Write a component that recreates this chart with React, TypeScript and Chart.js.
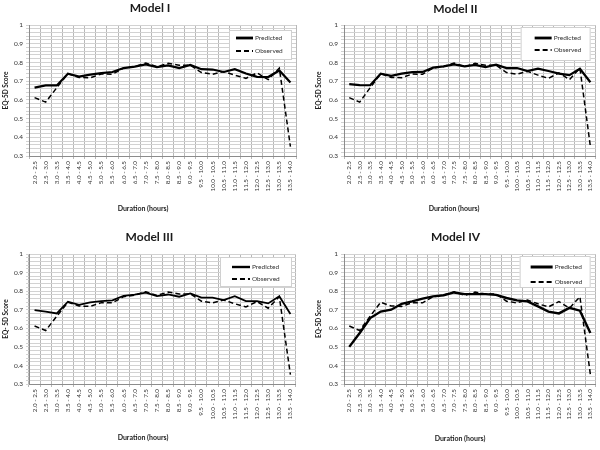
import React, { useEffect, useRef } from "react";
import { Chart, registerables } from "chart.js";

Chart.register(...registerables);

const categories = [
  "2.0 - 2.5", "2.5 - 3.0", "3.0 - 3.5", "3.5 - 4.0", "4.0 - 4.5", "4.5 - 5.0",
  "5.0 - 5.5", "5.5 - 6.0", "6.0 - 6.5", "6.5 - 7.0", "7.0 - 7.5", "7.5 - 8.0",
  "8.0 - 8.5", "8.5 - 9.0", "9.0 - 9.5", "9.5 - 10.0", "10.0 - 10.5", "10.5 - 11.0",
  "11.0 - 11.5", "11.5 - 12.0", "12.0 - 12.5", "12.5 - 13.0", "13.0 - 13.5", "13.5 - 14.0",
];

const observed = [
  0.612, 0.588, 0.665, 0.74, 0.72, 0.718, 0.738, 0.737, 0.77, 0.778, 0.797, 0.777,
  0.795, 0.785, 0.785, 0.746, 0.737, 0.752, 0.732, 0.715, 0.744, 0.708, 0.77, 0.35,
];

const predictedModelI = [
  0.665, 0.677, 0.677, 0.74, 0.724, 0.735, 0.743, 0.749, 0.77, 0.778, 0.789, 0.775,
  0.784, 0.77, 0.787, 0.764, 0.762, 0.749, 0.764, 0.741, 0.723, 0.722, 0.757, 0.693,
];

const predictedModelII = [
  0.684, 0.679, 0.678, 0.74, 0.728, 0.74, 0.748, 0.749, 0.772, 0.779, 0.789, 0.779,
  0.787, 0.775, 0.788, 0.77, 0.77, 0.754, 0.767, 0.754, 0.74, 0.732, 0.766, 0.694,
];

const predictedModelIII = [
  0.698, 0.69, 0.68, 0.743, 0.726, 0.739, 0.746, 0.75, 0.775, 0.781, 0.792, 0.773,
  0.782, 0.77, 0.788, 0.765, 0.765, 0.752, 0.773, 0.746, 0.746, 0.734, 0.773, 0.677,
];

const predictedModelIV = [
  0.5, 0.575, 0.655, 0.69, 0.7, 0.732, 0.745, 0.76, 0.772, 0.778, 0.793, 0.784,
  0.784, 0.784, 0.78, 0.763, 0.75, 0.745, 0.718, 0.69, 0.68, 0.71, 0.695, 0.575,
];

const yMin = 0.3;
const yMax = 1;
const yMinorStep = 0.02;

const FONT = "Lato";

const insideLegend = {
  id: "insideLegend",
  afterDatasetsDraw(chart: any, _args: any, opts: any) {
    const { ctx, chartArea } = chart;
    const x = chartArea.right - opts.rightInset - opts.width;
    const y = chartArea.top + opts.topInset;
    ctx.save();
    ctx.fillStyle = "#ffffff";
    ctx.strokeStyle = "#d0d0d0";
    ctx.lineWidth = 1;
    ctx.fillRect(x, y, opts.width, opts.height);
    ctx.strokeRect(x + 0.5, y + 0.5, opts.width - 1, opts.height - 1);
    chart.data.datasets.forEach((ds: any, i: number) => {
      const ry = y + opts.firstRow + i * opts.rowGap;
      ctx.beginPath();
      ctx.strokeStyle = ds.borderColor;
      ctx.lineWidth = ds.borderWidth + 0.6;
      ctx.setLineDash(ds.borderDash || []);
      ctx.moveTo(x + opts.lineStart, ry);
      ctx.lineTo(x + opts.lineStart + opts.lineLength, ry);
      ctx.stroke();
      ctx.setLineDash([]);
      ctx.fillStyle = "#333";
      ctx.font = `6.5px ${FONT}`;
      ctx.textBaseline = "middle";
      ctx.textAlign = "left";
      ctx.fillText(ds.label, x + opts.lineStart + opts.lineLength + 2, ry);
    });
    ctx.restore();
  },
};

const xCaption = {
  id: "xCaption",
  afterDraw(chart: any, _args: any, opts: any) {
    const { ctx } = chart;
    ctx.save();
    ctx.fillStyle = "#222";
    ctx.font = `bold 7px ${FONT}`;
    ctx.textAlign = "center";
    ctx.textBaseline = "middle";
    ctx.fillText(opts.text, opts.x, opts.y);
    ctx.restore();
  },
};

type PanelCfg = {
  title: string;
  yTitle: string;
  predicted: number[];
  left: number;
  top: number;
  padLeft: number;
  padRight: number;
  titlePadTop: number;
  titlePadBottom: number;
  yWidth: number;
  xHeight: number;
  predWidth: number;
  captionX: number;
  captionY: number;
  legend: any;
};

const panels: PanelCfg[] = [
  {
    title: "Model I", yTitle: "EQ-5D Score", predicted: predictedModelI,
    left: 0, top: 0, padLeft: 0, padRight: 0, titlePadTop: 1.3, titlePadBottom: 9.3,
    yWidth: 29, xHeight: 69, predWidth: 2.2, captionX: 143, captionY: 209,
    legend: { width: 63, height: 30, rightInset: 4, topInset: 5, firstRow: 8, rowGap: 13, lineStart: 7, lineLength: 17 },
  },
  {
    title: "Model II", yTitle: "EQ-5D Score", predicted: predictedModelII,
    left: 300, top: 0, padLeft: 13, padRight: 2, titlePadTop: 1.8, titlePadBottom: 8.8,
    yWidth: 31, xHeight: 69, predWidth: 2.2, captionX: 154, captionY: 209,
    legend: { width: 70, height: 34, rightInset: 5, topInset: 2, firstRow: 11, rowGap: 12, lineStart: 14, lineLength: 17 },
  },
  {
    title: "Model III", yTitle: "EQ- 5D Score", predicted: predictedModelIII,
    left: 0, top: 225, padLeft: 0, padRight: 1, titlePadTop: 5.3, titlePadBottom: 9.3,
    yWidth: 29, xHeight: 66, predWidth: 1.8, captionX: 143, captionY: 213,
    legend: { width: 72, height: 30, rightInset: 4, topInset: 3, firstRow: 10, rowGap: 12, lineStart: 12, lineLength: 18 },
  },
  {
    title: "Model IV", yTitle: "EQ-5D Score", predicted: predictedModelIV,
    left: 300, top: 225, padLeft: 13, padRight: 2, titlePadTop: 5.3, titlePadBottom: 9.3,
    yWidth: 31, xHeight: 66, predWidth: 2.4, captionX: 160, captionY: 214,
    legend: { width: 71, height: 32, rightInset: 5, topInset: 2, firstRow: 11, rowGap: 15, lineStart: 11, lineLength: 22 },
  },
];

function Panel({ cfg }: { cfg: PanelCfg }) {
  const ref = useRef<HTMLCanvasElement>(null);
  useEffect(() => {
    const chart = new Chart(ref.current as HTMLCanvasElement, {
      type: "line",
      data: {
        labels: categories,
        datasets: [
          {
            label: "Predicted",
            data: cfg.predicted,
            borderColor: "#000000",
            borderWidth: cfg.predWidth,
            pointRadius: 0,
            tension: 0,
            fill: false,
          },
          {
            label: "Observed",
            data: observed,
            borderColor: "#000000",
            borderWidth: 1.5,
            borderDash: [5, 3],
            pointRadius: 0,
            tension: 0,
            fill: false,
          },
        ],
      },
      options: {
        animation: false,
        responsive: false,
        devicePixelRatio: 1,
        layout: { padding: { left: cfg.padLeft, right: cfg.padRight, top: 0, bottom: 0 } },
        plugins: {
          legend: { display: false },
          tooltip: { enabled: false },
          title: {
            display: true,
            text: cfg.title,
            color: "#1a1a1a",
            font: { family: FONT, size: 12, weight: "bold" },
            padding: { top: cfg.titlePadTop, bottom: cfg.titlePadBottom },
          },
          insideLegend: cfg.legend,
          xCaption: { text: "Duration (hours)", x: cfg.captionX, y: cfg.captionY },
        } as any,
        scales: {
          x: {
            type: "category",
            offset: true,
            grid: {
              offset: true,
              color: "#b8b8b8",
              lineWidth: 1,
              tickLength: 3,
            },
            border: { color: "#8c8c8c" },
            ticks: {
              autoSkip: false,
              maxRotation: 90,
              minRotation: 90,
              padding: 2,
              color: "#333",
              font: { family: FONT, size: 6.3 },
            },
            afterFit: (scale: any) => {
              scale.height = cfg.xHeight;
            },
          },
          y: {
            type: "linear",
            min: yMin,
            max: yMax,
            grid: {
              color: "#d2d2d2",
              lineWidth: 1,
              tickLength: 3,
            },
            border: { color: "#8c8c8c" },
            ticks: {
              stepSize: yMinorStep,
              maxTicksLimit: 100,
              autoSkip: false,
              padding: 3,
              color: "#333",
              font: { family: FONT, size: 6.5 },
              callback: (value: any) => {
                const v = Math.round(Number(value) * 100);
                return v % 10 === 0 ? String(v / 100) : "";
              },
            },
            title: {
              display: true,
              text: cfg.yTitle,
              color: "#222",
              font: { family: FONT, size: 6.5, weight: "bold" },
              padding: { top: 2, bottom: 0 },
            },
            afterFit: (scale: any) => {
              scale.width = cfg.yWidth;
            },
          },
        },
      } as any,
      plugins: [insideLegend, xCaption],
    });
    return () => chart.destroy();
  }, []);
  return (
    <canvas
      ref={ref}
      width={300}
      height={225}
      style={{ position: "absolute", left: cfg.left, top: cfg.top, width: 300, height: 225 }}
    />
  );
}

export default function App() {
  return (
    <div style={{ position: "fixed", left: 0, top: 0, width: 600, height: 450, background: "#ffffff" }}>
      {panels.map((p) => (
        <Panel key={p.title} cfg={p} />
      ))}
    </div>
  );
}
